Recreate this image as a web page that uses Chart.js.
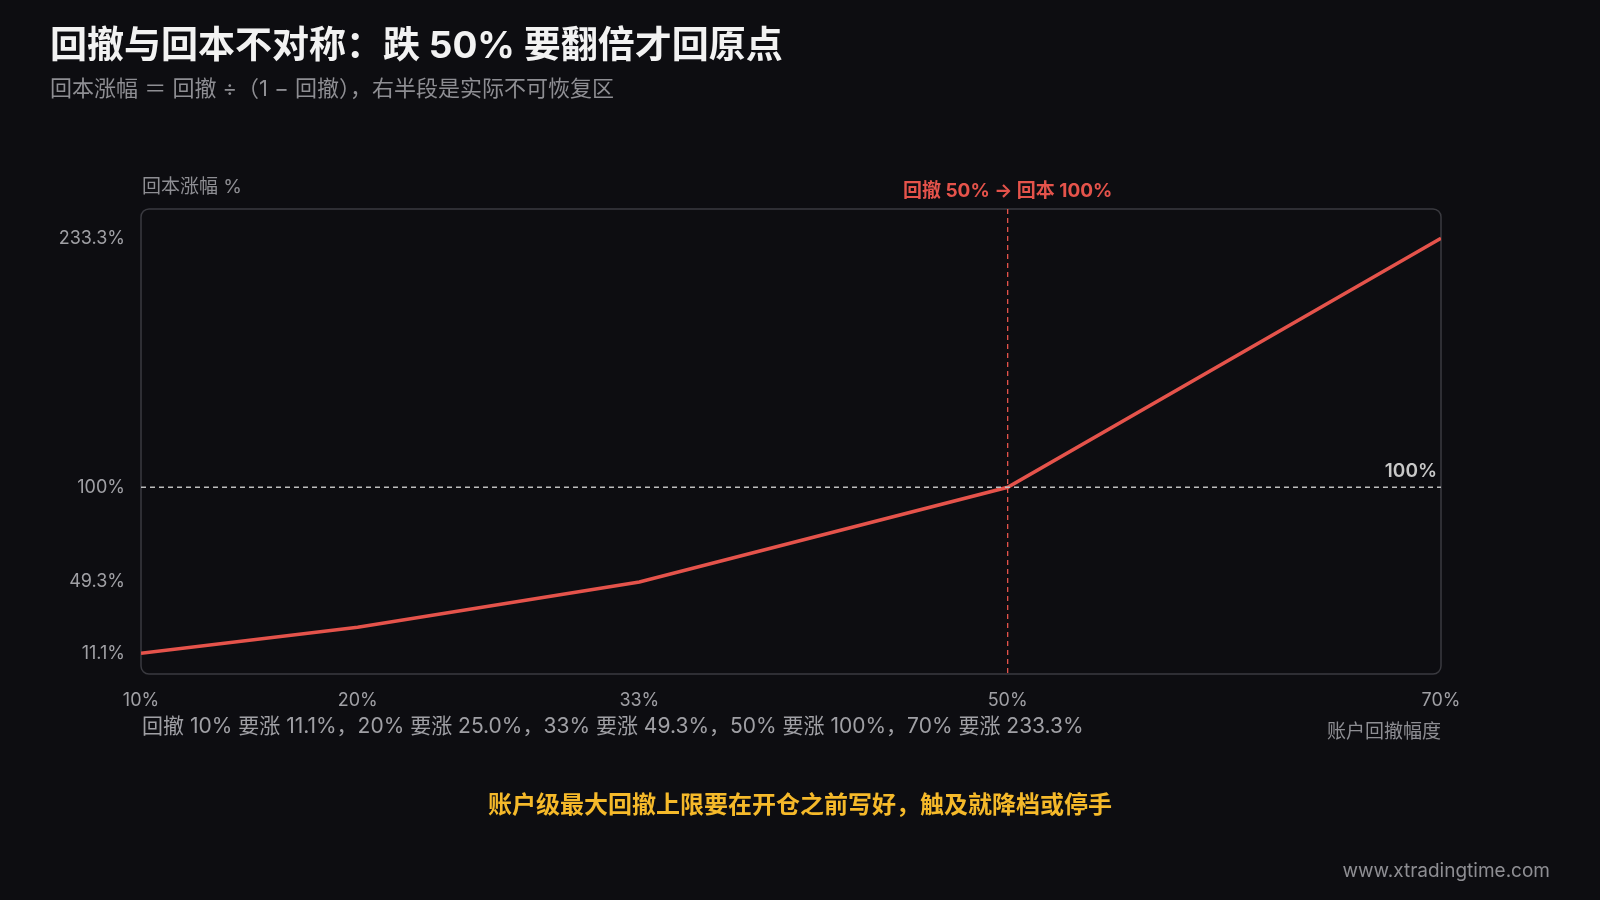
<!DOCTYPE html>
<html><head><meta charset="utf-8">
<script src="https://cdn.jsdelivr.net/npm/chart.js@4"></script>
<style>html,body{margin:0;background:#0d0d11;}#w{width:1600px;height:900px;}</style>
</head><body><div id="w"><canvas id="c"></canvas></div>
<script>
const drawdowns = [10, 20, 33, 50, 70];
const recovery = [11.1, 25.0, 49.3, 100, 233.3];
const xTicks = [10, 20, 33, 50, 70];
const yTicks = [11.1, 49.3, 100, 233.3];
const F = 'Inter,"Noto Sans CJK SC",sans-serif';

const deco = {
  id: 'deco',
  beforeDraw(ch) {
    const c = ch.ctx, a = ch.chartArea;
    c.save();
    c.fillStyle = '#0d0d11'; c.fillRect(0, 0, ch.width, ch.height);
    c.strokeStyle = '#3a3a40'; c.lineWidth = 1.5;
    c.beginPath(); c.roundRect(a.left, a.top, a.right - a.left, a.bottom - a.top, 8); c.stroke();
    c.restore();
  },
  afterDatasetsDraw(ch) {
    const c = ch.ctx, a = ch.chartArea, x = ch.scales.x, y = ch.scales.y;
    c.save();
    const y100 = y.getPixelForValue(100);
    c.setLineDash([5, 4]); c.strokeStyle = '#bdbdbd'; c.lineWidth = 1.3;
    c.beginPath(); c.moveTo(a.left, y100); c.lineTo(a.right, y100); c.stroke();
    const x50 = x.getPixelForValue(50);
    c.strokeStyle = '#e5534b';
    c.beginPath(); c.moveTo(x50, a.top); c.lineTo(x50, a.bottom); c.stroke();
    c.setLineDash([]);
    c.font = '600 19px ' + F; c.fillStyle = '#c8c8c8'; c.textAlign = 'right'; c.textBaseline = 'bottom';
    c.fillText('100%', a.right - 4, y100 - 6);
    c.font = 'bold 19px ' + F; c.fillStyle = '#e5534b'; c.textAlign = 'center';
    c.fillText('回撤 50% → 回本 100%', x50, a.top - 8);
    c.restore();
  },
  afterDraw(ch) {
    const c = ch.ctx, a = ch.chartArea;
    c.save(); c.textBaseline = 'alphabetic'; c.textAlign = 'left';
    c.fillStyle = '#f2f2f2'; c.font = 'bold 37px ' + F;
    c.fillText('回撤与回本不对称：跌 50% 要翻倍才回原点', 50, 58);
    c.fillStyle = '#8e8e93'; c.font = '22px ' + F;
    c.fillText('回本涨幅 ＝ 回撤 ÷（1 − 回撤），右半段是实际不可恢复区', 50, 96);
    c.font = '19px ' + F;
    c.fillText('回本涨幅 %', 142, 193);
    c.fillStyle = '#a0a0a5'; c.font = '21px ' + F;
    c.fillText('回撤 10% 要涨 11.1%，20% 要涨 25.0%，33% 要涨 49.3%，50% 要涨 100%，70% 要涨 233.3%', 142, 733);
    c.textAlign = 'right'; c.fillStyle = '#8e8e93'; c.font = '19px ' + F;
    c.fillText('账户回撤幅度', a.right, 738);
    c.fillText('www.xtradingtime.com', 1550, 877);
    c.textAlign = 'center'; c.fillStyle = '#f5b92a'; c.font = 'bold 24px ' + F;
    c.fillText('账户级最大回撤上限要在开仓之前写好，触及就降档或停手', 800, 813);
    c.restore();
  }
};

new Chart(document.getElementById('c'), {
  type: 'line',
  data: { datasets: [{ data: drawdowns.map((d, i) => ({ x: d, y: recovery[i] })),
    borderColor: '#e5534b', borderWidth: 3.5, pointRadius: 0, tension: 0 }] },
  options: {
    responsive: true, maintainAspectRatio: false, animation: false,
    layout: { padding: { top: 209, right: 159, left: 0, bottom: 0 } },
    plugins: { legend: { display: false }, tooltip: { enabled: false } },
    scales: {
      x: { type: 'linear', min: 10, max: 70,
        afterBuildTicks: s => { s.ticks = xTicks.map(v => ({ value: v })); },
        afterFit: s => { s.height = 226; },
        grid: { display: false }, border: { display: false },
        ticks: { color: '#a0a0a5', font: { size: 18, family: F }, padding: 8, callback: v => v + '%', maxRotation: 0 } },
      y: { type: 'linear', min: 0, max: 249,
        afterBuildTicks: s => { s.ticks = yTicks.map(v => ({ value: v })); },
        afterFit: s => { s.width = 141; },
        grid: { display: false }, border: { display: false },
        ticks: { color: '#a0a0a5', font: { size: 18, family: F }, padding: 8, callback: v => v + '%' } }
    }
  },
  plugins: [deco]
});
</script></body></html>
